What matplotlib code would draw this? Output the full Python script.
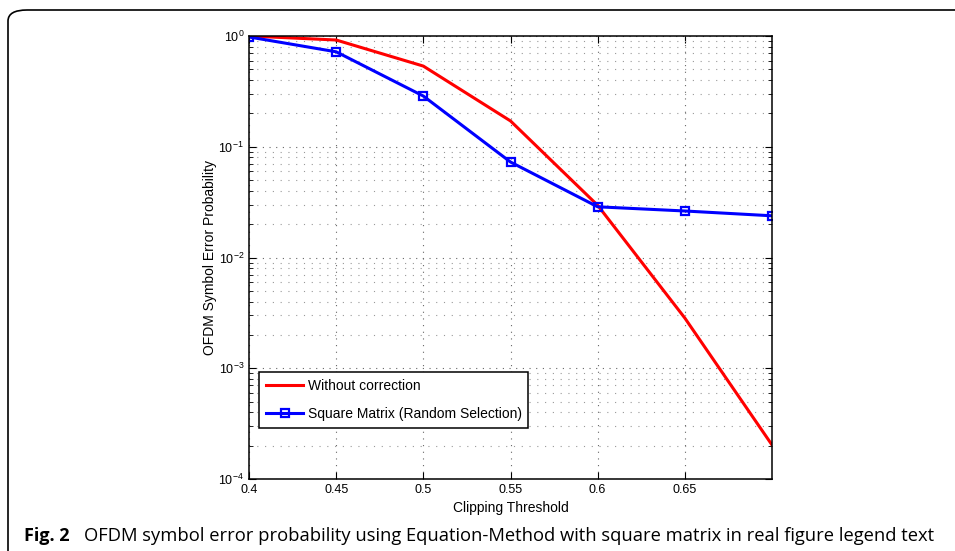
import numpy as np
import matplotlib.pyplot as plt
from matplotlib.patches import FancyBboxPatch
from matplotlib.ticker import LogLocator, NullFormatter

# 데이터
threshold = [0.4, 0.45, 0.5, 0.55, 0.6, 0.65, 0.7]
without_corr = [1.0, 0.92, 0.535, 0.171, 0.0296, 0.00284, 0.000203]
square_matrix = [0.98, 0.72, 0.287, 0.0728, 0.0287, 0.0263, 0.0238]
xticks = [0.4, 0.45, 0.5, 0.55, 0.6, 0.65]
xtick_labels = ['0.4', '0.45', '0.5', '0.55', '0.6', '0.65']

plt.rcParams['font.family'] = ['Liberation Sans', 'DejaVu Sans']

fig = plt.figure(figsize=(9.55, 5.51), dpi=100)

# 바깥 테두리 (둥근 모서리)
frame = FancyBboxPatch((8 / 955, -0.2), 1.2, 1.2 - 10 / 551,
                       boxstyle='round,pad=0,rounding_size=0.02',
                       transform=fig.transFigure, fill=False,
                       edgecolor='black', linewidth=1.2)
fig.patches.append(frame)

ax = fig.add_axes([249 / 955, 1 - 479 / 551, 523 / 955, 443 / 551])

ax.semilogy(threshold, without_corr, color='#ff0000', linewidth=2.2,
            label='Without correction')
ax.semilogy(threshold, square_matrix, color='#0000ff', linewidth=2.2,
            marker='s', markersize=6, markerfacecolor='none',
            markeredgewidth=1.6, label='Square Matrix (Random Selection)')

ax.set_xlim(0.4, 0.7)
ax.set_ylim(1e-4, 1)
ax.set_xticks(xticks)
ax.set_xticklabels(xtick_labels)
ax.yaxis.set_major_locator(LogLocator(base=10, numticks=10))
ax.yaxis.set_minor_locator(LogLocator(base=10, subs=np.arange(2, 10), numticks=10))
ax.yaxis.set_minor_formatter(NullFormatter())

ax.tick_params(which='both', direction='in', top=True, right=True, labelsize=9)
ax.tick_params(which='major', length=5, width=0.8)
ax.tick_params(which='minor', length=3, width=0.6)
for s in ax.spines.values():
    s.set_linewidth(1.1)

ax.grid(True, which='major', linestyle=(0, (1, 5)), color='#666666', linewidth=0.8)
ax.grid(True, which='minor', axis='y', linestyle=(0, (1, 6)), color='#999999', linewidth=0.8)

ax.set_xlabel('Clipping Threshold', fontsize=10, labelpad=4)
ax.set_ylabel('OFDM Symbol Error Probability', fontsize=10, labelpad=1)

leg = ax.legend(loc='lower left', bbox_to_anchor=(0.019, 0.115), borderaxespad=0,
                fontsize=10, fancybox=False, framealpha=1, edgecolor='black',
                handlelength=2.7, handletextpad=0.3, labelspacing=1.0,
                borderpad=0.5)
leg.get_frame().set_linewidth(1.1)

# 캡션
fig.text(24 / 955, 1 - 541 / 551, 'Fig. 2', fontsize=13, fontweight='bold',
         family=['Open Sans', 'DejaVu Sans'], va='baseline')
fig.text(84 / 955, 1 - 541 / 551,
         'OFDM symbol error probability using Equation-Method with square matrix in real figure legend text',
         fontsize=13.2, family=['Open Sans', 'DejaVu Sans'], va='baseline')

fig.savefig('out.png', dpi=100)
